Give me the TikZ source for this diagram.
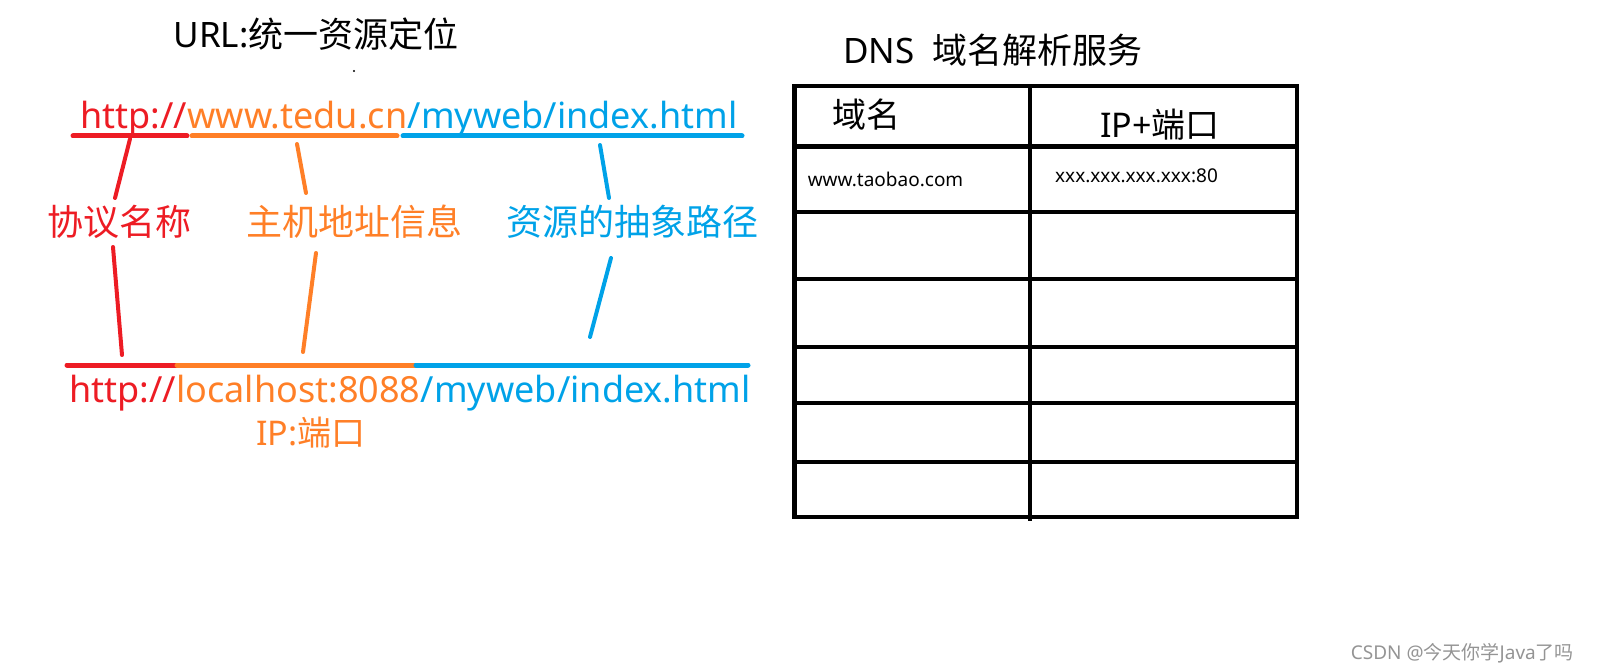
\documentclass[tikz,border=0pt]{standalone}
\usepackage{fontspec}
\setmainfont{Noto Sans}
\newfontfamily\cjk{Noto Sans CJK SC}
\usepackage{tikz}
\definecolor{pred}{RGB}{237,28,36}
\definecolor{porange}{RGB}{255,127,39}
\definecolor{pblue}{RGB}{0,162,232}
\tikzstyle{urltext} = [inner sep=0pt,anchor=base west,font=\fontsize{36}{43}\selectfont]
\tikzstyle{bigtext} = [inner sep=0pt,font=\fontsize{35}{42}\selectfont]
\tikzstyle{tagtext} = [inner sep=0pt,font=\fontsize{36}{43}\selectfont]
\tikzstyle{celltext} = [inner sep=0pt,font=\fontsize{19}{23}\selectfont]
\tikzstyle{stroke} = [line width=5pt,line cap=round]
\tikzstyle{link} = [line width=4pt,line cap=round]
\tikzstyle{grid} = [line width=4.5pt]

\begin{document}
\begin{tikzpicture}[x=1pt,y=-1pt]
	\useasboundingbox (0,0) rectangle (1600,671);
	% URL part
	\node[bigtext] (urltitle) at (316,34) {URL:{\cjk 统一资源定位}};
	\fill (354,71) circle (1.2pt);
	\node[urltext,pred] (up1) at (80,129) {http://};
	\node[urltext,porange] (up2) at (up1.base east) {www.tedu.cn};
	\node[urltext,pblue] (up3) at (up2.base east) {/myweb/index.html};
	\draw[stroke,pred] (73,136) -- (187,136);
	\draw[stroke,porange] (192,136) -- (397,136);
	\draw[stroke,pblue] (403,136) -- (742,136);
	\node[tagtext,pred] (proto) at (119,222) {\cjk 协议名称};
	\node[tagtext,porange] (host) at (354,222) {\cjk 主机地址信息};
	\node[tagtext,pblue] (path) at (632,222) {\cjk 资源的抽象路径};
	\coordinate (pa) at (130,139);
	\coordinate (pb) at (115,198);
	\coordinate (pc) at (113,247);
	\coordinate (pd) at (122,355);
	\coordinate (ha) at (297,144);
	\coordinate (hb) at (306,193);
	\coordinate (hc) at (316,253);
	\coordinate (hd) at (303,352);
	\coordinate (ra) at (600,145);
	\coordinate (rb) at (609,198);
	\coordinate (rc) at (611,258);
	\coordinate (rd) at (590,337);
	\draw[link,pred] (pa) -- (pb);
	\draw[link,pred] (pc) -- (pd);
	\draw[link,porange] (ha) -- (hb);
	\draw[link,porange] (hc) -- (hd);
	\draw[link,pblue] (ra) -- (rb);
	\draw[link,pblue] (rc) -- (rd);
	\draw[stroke,pred] (67,365) -- (177,365);
	\draw[stroke,porange] (177,365) -- (416,365);
	\draw[stroke,pblue] (416,365) -- (748,365);
	\node[urltext,pred] (lo1) at (69,402) {http://};
	\node[urltext,porange] (lo2) at (lo1.base east) {localhost:8088};
	\node[urltext,pblue] (lo3) at (lo2.base east) {/myweb/index.html};
	\node[bigtext,font=\fontsize{34}{40}\selectfont,porange] (ipport) at (311,433) {IP:{\cjk 端口}};
	% DNS table
	\node[bigtext] (dnstitle) at (993,50) {DNS\ \ {\cjk 域名解析服务}};
	\draw[grid] (794.5,86) rectangle (1297,517);
	\draw[grid] (1030,86) -- (1030,521);
	\foreach \y in {146.5,212,279,347,403,462}
		\draw[grid] (794.5,\y) -- (1297,\y);
	\node[bigtext,font=\fontsize{34}{40}\selectfont] (colname) at (866,115) {\cjk 域名};
	\node[bigtext,font=\fontsize{34}{40}\selectfont] (colip) at (1160,125) {IP+{\cjk 端口}};
	\node[celltext] (hostname) at (885.5,179) {www.taobao.com};
	\node[celltext] (address) at (1136.5,176) {xxx.xxx.xxx.xxx:80};
	\node[inner sep=0pt,anchor=east,font=\fontsize{19}{23}\selectfont,black!42] (mark) at (1574,653) {CSDN @{\cjk 今天你学}Java{\cjk 了吗}};
\end{tikzpicture}
\end{document}
